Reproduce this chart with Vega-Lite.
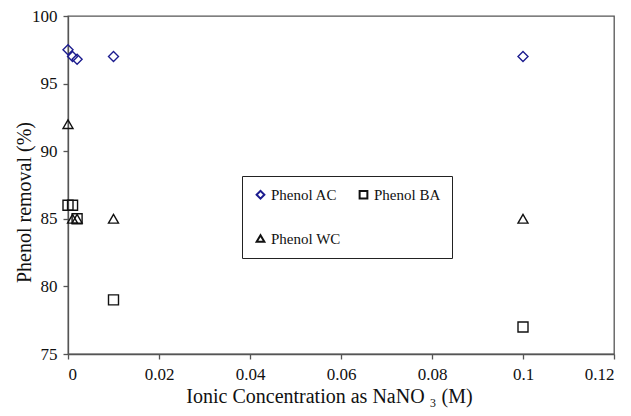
{
  "$schema": "https://vega.github.io/schema/vega-lite/v6.json",
  "width": 546,
  "height": 338,
  "autosize": "none",
  "padding": {"left": 68, "top": 16, "right": 17, "bottom": 62},
  "background": "white",
  "config": {
    "font": "Liberation Serif",
    "view": {"stroke": "#555", "strokeWidth": 1.3},
    "axis": {
      "grid": false,
      "domainColor": "#555",
      "domainWidth": 1.3,
      "tickColor": "#555",
      "tickWidth": 1.3,
      "tickSize": 5,
      "labelFont": "Liberation Serif",
      "labelFontSize": 17,
      "labelColor": "#111",
      "titleFont": "Liberation Serif",
      "titleFontSize": 20,
      "titleFontWeight": "normal",
      "titleColor": "#111"
    },
    "legend": {
      "labelFont": "Liberation Serif"
    }
  },
  "data": {
    "values": [
      {"conc": 0, "removal": 97.5, "series": "Phenol AC"},
      {"conc": 0.001, "removal": 97.0, "series": "Phenol AC"},
      {"conc": 0.002, "removal": 96.8, "series": "Phenol AC"},
      {"conc": 0.01, "removal": 97.0, "series": "Phenol AC"},
      {"conc": 0.1, "removal": 97.0, "series": "Phenol AC"},
      {"conc": 0, "removal": 86, "series": "Phenol BA"},
      {"conc": 0.001, "removal": 86, "series": "Phenol BA"},
      {"conc": 0.002, "removal": 85, "series": "Phenol BA"},
      {"conc": 0.01, "removal": 79, "series": "Phenol BA"},
      {"conc": 0.1, "removal": 77, "series": "Phenol BA"},
      {"conc": 0, "removal": 92, "series": "Phenol WC"},
      {"conc": 0.001, "removal": 85, "series": "Phenol WC"},
      {"conc": 0.002, "removal": 85, "series": "Phenol WC"},
      {"conc": 0.01, "removal": 85, "series": "Phenol WC"},
      {"conc": 0.1, "removal": 85, "series": "Phenol WC"}
    ]
  },
  "mark": {"type": "point", "filled": false, "strokeWidth": 1.4, "size": 100, "opacity": 1},
  "encoding": {
    "x": {
      "field": "conc",
      "type": "quantitative",
      "scale": {"domain": [0, 0.12], "nice": false, "zero": false},
      "axis": {"values": [0, 0.02, 0.04, 0.06, 0.08, 0.1, 0.12], "labelExpr": "'' + datum.value", "labelPadding": 7, "titlePadding": 4, "titleX": 261, "title": "Ionic Concentration as NaNO ₃ (M)"}
    },
    "y": {
      "field": "removal",
      "type": "quantitative",
      "scale": {"domain": [75, 100], "nice": false, "zero": false},
      "axis": {"values": [75, 80, 85, 90, 95, 100], "labelPadding": 6, "titleX": -44, "titleY": 186, "titleBaseline": "middle", "title": "Phenol removal (%)"}
    },
    "shape": {
      "field": "series",
      "type": "nominal",
      "scale": {"domain": ["Phenol AC", "Phenol WC", "Phenol BA"], "range": ["diamond", "triangle-up", "square"]},
      "legend": {
        "orient": "none",
        "legendX": 174,
        "legendY": 160,
        "columns": 2,
        "title": null,
        "padding": 11,
        "strokeColor": "#222",
        "fillColor": "white",
        "labelFontSize": 15,
        "labelColor": "#111",
        "symbolSize": 60,
        "symbolStrokeWidth": 2,
        "rowPadding": 28,
        "columnPadding": 14,
        "labelOffset": 3
      }
    },
    "color": {
      "field": "series",
      "type": "nominal",
      "scale": {"domain": ["Phenol AC", "Phenol WC", "Phenol BA"], "range": ["#1c1c8f", "#111111", "#111111"]}
    }
  }
}
